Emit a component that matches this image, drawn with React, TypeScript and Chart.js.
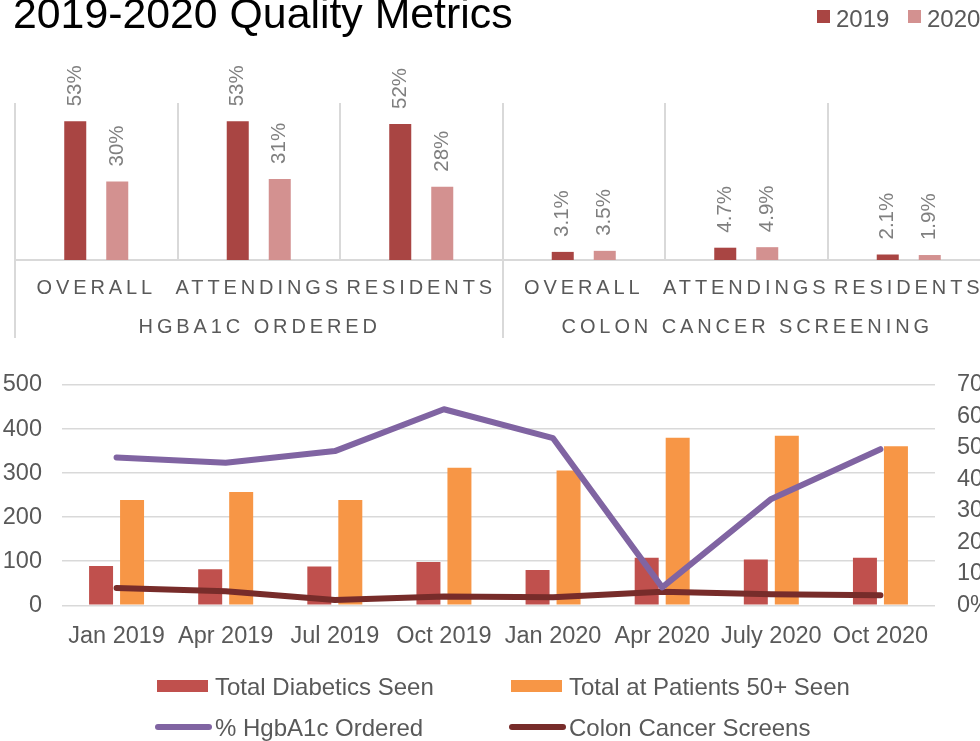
import React, { useEffect, useRef } from 'react';
import { Chart, registerables } from 'chart.js';

Chart.register(...registerables);

const FONT = "'Liberation Sans', Arial, Helvetica, sans-serif";

// ---------- Top chart data ----------
const chartTitle = '2019-2020 Quality Metrics';
const metricCategories = ['OVERALL', 'ATTENDINGS', 'RESIDENTS', 'OVERALL', 'ATTENDINGS', 'RESIDENTS'];
const metricGroups = ['HGBA1C ORDERED', 'COLON CANCER SCREENING'];
const metricYears = ['2019', '2020'];
const metric2019 = [53, 53, 52, 3.1, 4.7, 2.1];
const metric2020 = [30, 31, 28, 3.5, 4.9, 1.9];

// ---------- Bottom chart data ----------
const quarters = ['Jan 2019', 'Apr 2019', 'Jul 2019', 'Oct 2019', 'Jan 2020', 'Apr 2020', 'July 2020', 'Oct 2020'];
const totalDiabetics = [89, 82, 88, 98, 80, 108, 104, 108];
const totalPatients50 = [239, 257, 239, 312, 306, 380, 385, 361];
const hgbA1cPct = [47.0, 45.3, 49.0, 62.3, 53.1, 5.7, 33.8, 49.6];
const colonScreens = [39, 32, 12, 20, 18, 31, 25, 23];

const C2019 = '#a94543';
const C2020 = '#d39190';
const CRED = '#c0504d';
const CORANGE = '#f79646';
const CPURPLE = '#8064a2';
const CDARK = '#772c2a';
const GRID = '#d9d9d9';
const TEXT = '#595959';

const fmtPct = (v: number) => (v >= 10 ? `${v}%` : `${v.toFixed(1)}%`);

const topPlugin = {
  id: 'topDecor',
  afterDraw(chart: any) {
    const ctx = chart.ctx;
    const xs = chart.scales.x;
    const area = chart.chartArea;
    ctx.save();
    // title
    ctx.fillStyle = '#000';
    ctx.font = `42.8px ${FONT}`;
    ctx.textAlign = 'left';
    ctx.textBaseline = 'alphabetic';
    ctx.fillText(chartTitle, 13, 28);

    // legend
    ctx.font = `24px ${FONT}`;
    const legendX = [817, 908];
    chart.data.datasets.forEach((ds: any, i: number) => {
      ctx.fillStyle = ds.backgroundColor;
      ctx.fillRect(legendX[i], 10, 13, 13);
      ctx.fillStyle = TEXT;
      ctx.fillText(metricYears[i], legendX[i] + 19, 26.5);
    });

    // data labels (rotated)
    ctx.font = `20.5px ${FONT}`;
    ctx.fillStyle = '#7f7f7f';
    chart.data.datasets.forEach((ds: any, di: number) => {
      const meta = chart.getDatasetMeta(di);
      meta.data.forEach((el: any, i: number) => {
        ctx.save();
        ctx.translate(el.x, el.y - 15);
        ctx.rotate(-Math.PI / 2);
        ctx.textAlign = 'left';
        ctx.textBaseline = 'middle';
        ctx.fillText(fmtPct(ds.data[i]), 0, 0);
        ctx.restore();
      });
    });

    // category labels
    const p0 = xs.getPixelForValue(0);
    const p1 = xs.getPixelForValue(1);
    const cw = p1 - p0;
    ctx.fillStyle = TEXT;
    ctx.font = `20px ${FONT}`;
    (ctx as any).letterSpacing = '3.9px';
    ctx.textAlign = 'center';
    ctx.textBaseline = 'alphabetic';
    metricCategories.forEach((c, i) => {
      ctx.fillText(c, xs.getPixelForValue(i), 294);
    });
    metricGroups.forEach((g, gi) => {
      const a = xs.getPixelForValue(gi * 3);
      const b = xs.getPixelForValue(gi * 3 + 2);
      ctx.fillText(g, (a + b) / 2 + 1, 333);
    });
    (ctx as any).letterSpacing = '0px';

    // group separators below axis
    ctx.strokeStyle = GRID;
    ctx.lineWidth = 2;
    for (let g = 0; g <= metricGroups.length; g++) {
      const x = Math.round(xs.getPixelForValue(g * 3) - cw / 2);
      ctx.beginPath();
      ctx.moveTo(x, area.bottom);
      ctx.lineTo(x, 338);
      ctx.stroke();
    }
    ctx.restore();
  },
};

const bottomLegendItems = [
  { label: 'Total Diabetics Seen', color: CRED, kind: 'box', col: 0, row: 0 },
  { label: 'Total at Patients 50+ Seen', color: CORANGE, kind: 'box', col: 1, row: 0 },
  { label: '% HgbA1c Ordered', color: CPURPLE, kind: 'line', col: 0, row: 1 },
  { label: 'Colon Cancer Screens', color: CDARK, kind: 'line', col: 1, row: 1 },
];

const bottomPlugin = {
  id: 'bottomLegend',
  afterDraw(chart: any) {
    const ctx = chart.ctx;
    ctx.save();
    const colX = [157, 511];
    const rowMid = [341, 382];
    const rowBase = [350, 391];
    ctx.font = `24px ${FONT}`;
    ctx.textAlign = 'left';
    ctx.textBaseline = 'alphabetic';
    bottomLegendItems.forEach((it) => {
      const x = colX[it.col];
      const y = rowMid[it.row];
      if (it.kind === 'box') {
        ctx.fillStyle = it.color;
        ctx.fillRect(x, y - 6, 51, 12);
      } else {
        ctx.strokeStyle = it.color;
        ctx.lineWidth = 6;
        ctx.lineCap = 'round';
        ctx.beginPath();
        ctx.moveTo(x + 1, y);
        ctx.lineTo(x + 52, y);
        ctx.stroke();
      }
      ctx.fillStyle = TEXT;
      ctx.fillText(it.label, x + 58, rowBase[it.row]);
    });
    ctx.restore();
  },
};

export default function App() {
  const topRef = useRef<HTMLCanvasElement>(null);
  const botRef = useRef<HTMLCanvasElement>(null);

  useEffect(() => {
    const top = new Chart(topRef.current as HTMLCanvasElement, {
      type: 'bar',
      data: {
        labels: metricCategories,
        datasets: [
          { label: metricYears[0], data: metric2019, backgroundColor: C2019, categoryPercentage: 0.517, barPercentage: 0.524 },
          { label: metricYears[1], data: metric2020, backgroundColor: C2020, categoryPercentage: 0.517, barPercentage: 0.524 },
        ],
      },
      options: {
        responsive: false,
        animation: false,
        layout: { padding: { left: 15, right: 10, top: 103, bottom: 85 } },
        plugins: { legend: { display: false }, tooltip: { enabled: false }, title: { display: false } },
        scales: {
          x: {
            grid: { color: GRID, lineWidth: 2, drawTicks: false, offset: true },
            border: { display: true, color: GRID, width: 2 },
            ticks: { display: false },
          },
          y: { display: false, min: 0, max: 60 },
        },
      } as any,
      plugins: [topPlugin],
    });

    const bottom = new Chart(botRef.current as HTMLCanvasElement, {
      type: 'bar',
      data: {
        labels: quarters,
        datasets: [
          {
            type: 'line', label: '% HgbA1c Ordered', data: hgbA1cPct, yAxisID: 'y1',
            borderColor: CPURPLE, backgroundColor: CPURPLE, borderWidth: 6, pointRadius: 0, tension: 0,
            borderCapStyle: 'round', borderJoinStyle: 'round', order: 1,
          },
          {
            type: 'line', label: 'Colon Cancer Screens', data: colonScreens, yAxisID: 'y',
            borderColor: CDARK, backgroundColor: CDARK, borderWidth: 6, pointRadius: 0, tension: 0,
            borderCapStyle: 'round', borderJoinStyle: 'round', order: 1,
          },
          {
            type: 'bar', label: 'Total Diabetics Seen', data: totalDiabetics, yAxisID: 'y',
            backgroundColor: CRED, categoryPercentage: 0.568, barPercentage: 0.774, order: 2,
          },
          {
            type: 'bar', label: 'Total at Patients 50+ Seen', data: totalPatients50, yAxisID: 'y',
            backgroundColor: CORANGE, categoryPercentage: 0.568, barPercentage: 0.774, order: 2,
          },
        ],
      } as any,
      options: {
        responsive: false,
        animation: false,
        layout: { padding: { left: 0, right: 0, top: 40, bottom: 0 } },
        plugins: { legend: { display: false }, tooltip: { enabled: false } },
        scales: {
          x: {
            grid: { display: false, drawTicks: false },
            border: { display: false },
            ticks: { color: TEXT, font: { family: FONT, size: 23.5 }, padding: 17, maxRotation: 0, autoSkip: false },
            afterFit: (s: any) => { s.height = 135.7; },
          },
          y: {
            position: 'left', min: 0, max: 500,
            ticks: { stepSize: 100, color: TEXT, font: { family: FONT, size: 23.5 }, padding: 20 },
            grid: { color: GRID, lineWidth: 1.5, drawTicks: false },
            border: { display: false },
            afterFit: (s: any) => { s.width = 62; },
          },
          y1: {
            position: 'right', min: 0, max: 70,
            ticks: { stepSize: 10, color: TEXT, font: { family: FONT, size: 23.5 }, padding: 22, callback: (v: any) => `${v}%` },
            grid: { display: false, drawTicks: false },
            border: { display: false },
            afterFit: (s: any) => { s.width = 80; },
          },
        },
      } as any,
      plugins: [bottomPlugin],
    });

    return () => {
      top.destroy();
      bottom.destroy();
    };
  }, []);

  return (
    <div style={{ position: 'fixed', left: 0, top: 0, width: 980, height: 741, overflow: 'hidden', background: '#fff' }}>
      <canvas ref={topRef} width={1000} height={345} style={{ position: 'absolute', left: 0, top: 0, width: 1000, height: 345 }} />
      <canvas ref={botRef} width={1015} height={396} style={{ position: 'absolute', left: 0, top: 345, width: 1015, height: 396 }} />
    </div>
  );
}
